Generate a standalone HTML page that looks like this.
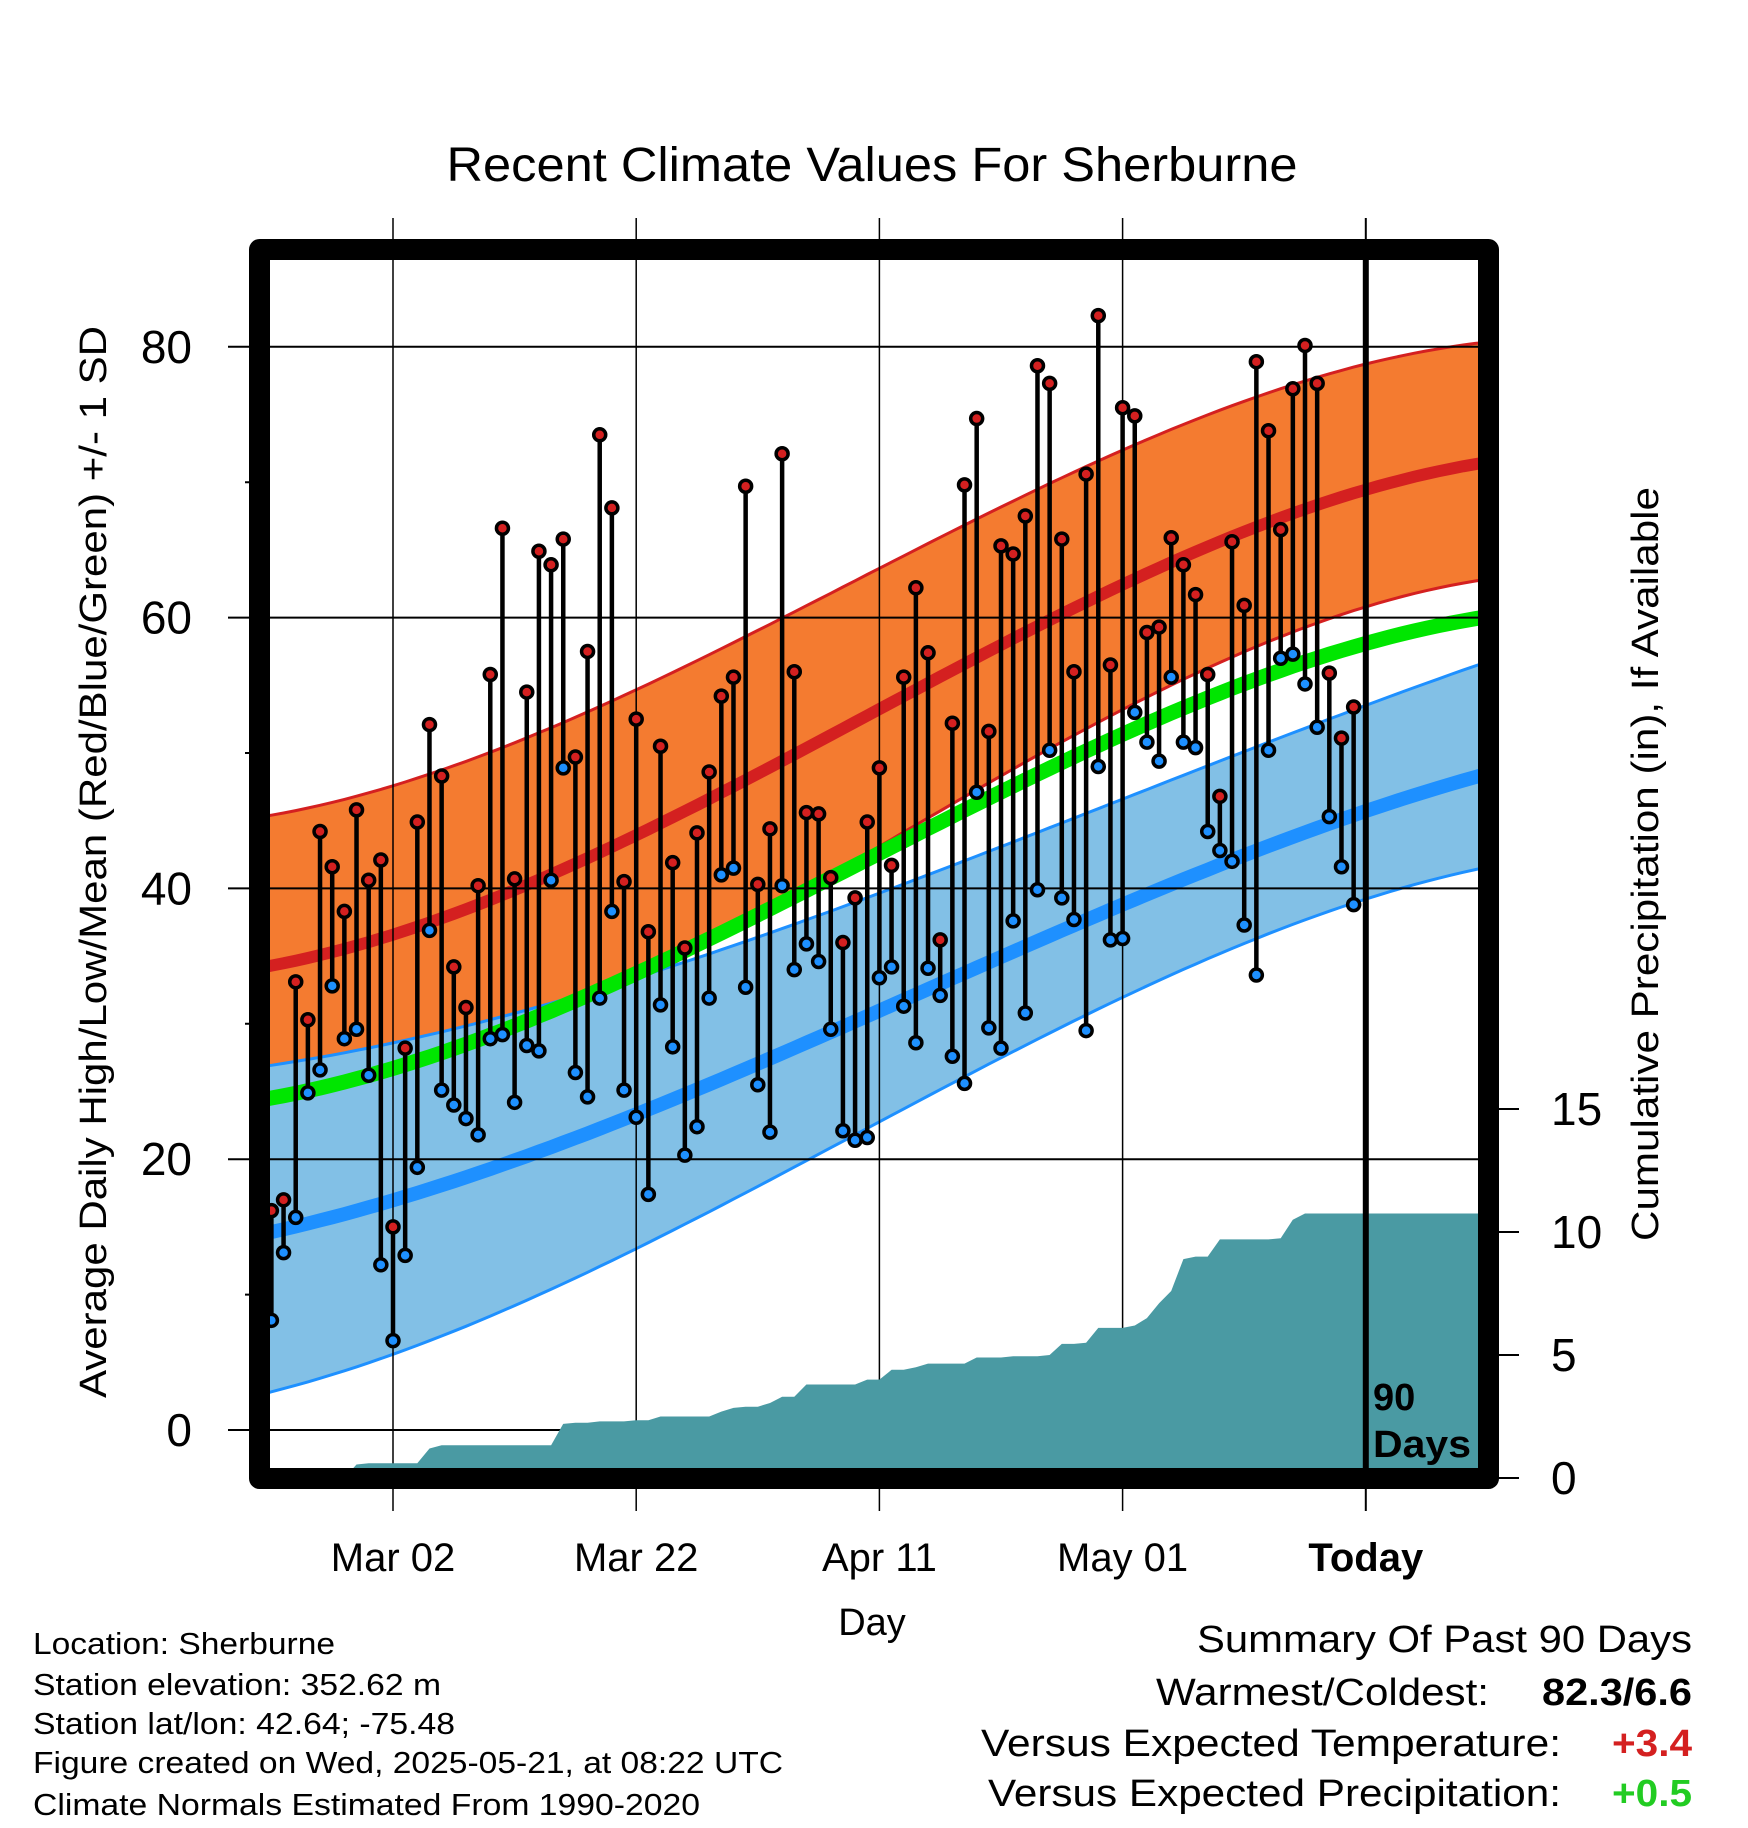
<!DOCTYPE html>
<html><head><meta charset="utf-8"><style>
html,body{margin:0;padding:0;background:#fff}
svg{display:block}
text{font-family:"Liberation Sans",sans-serif;fill:#000}
</style></head><body>
<svg id="chart" xmlns="http://www.w3.org/2000/svg" width="1748" height="1828" viewBox="0 0 1748 1828">
<defs><clipPath id="plotclip"><rect x="270" y="260" width="1208" height="1208"/></clipPath></defs>
<text x="872" y="181" font-size="48" text-anchor="middle" textLength="851" lengthAdjust="spacingAndGlyphs">Recent Climate Values For Sherburne</text>
<g id="bands" clip-path="url(#plotclip)"></g>
<g id="axes"></g>
<g id="marks" clip-path="url(#plotclip)"></g>
<rect x="259.5" y="249.5" width="1229" height="1229" fill="none" stroke="#000" stroke-width="21" stroke-linejoin="round"/>
<text x="1373" y="1410" font-size="38" font-weight="bold">90</text>
<text x="1373" y="1457" font-size="38" font-weight="bold" textLength="98" lengthAdjust="spacingAndGlyphs">Days</text>
<text transform="translate(106,862) rotate(-90)" font-size="38" text-anchor="middle" textLength="1072" lengthAdjust="spacingAndGlyphs">Average Daily High/Low/Mean (Red/Blue/Green) +/- 1 SD</text>
<text transform="translate(1658,864) rotate(-90)" font-size="38" text-anchor="middle" textLength="754" lengthAdjust="spacingAndGlyphs">Cumulative Precipitation (in), If Available</text>
<text x="872" y="1635" font-size="38" text-anchor="middle">Day</text>
<g font-size="31">
<text x="33" y="1654" textLength="302" lengthAdjust="spacingAndGlyphs">Location: Sherburne</text>
<text x="33" y="1695" textLength="408" lengthAdjust="spacingAndGlyphs">Station elevation: 352.62 m</text>
<text x="33" y="1734" textLength="422" lengthAdjust="spacingAndGlyphs">Station lat/lon: 42.64; -75.48</text>
<text x="33" y="1773" textLength="750" lengthAdjust="spacingAndGlyphs">Figure created on Wed, 2025-05-21, at 08:22 UTC</text>
<text x="33" y="1815" textLength="667" lengthAdjust="spacingAndGlyphs">Climate Normals Estimated From 1990-2020</text>
</g>
<g font-size="38">
<text x="1692" y="1652" text-anchor="end" textLength="495" lengthAdjust="spacingAndGlyphs">Summary Of Past 90 Days</text>
<text x="1489" y="1705" text-anchor="end" textLength="333" lengthAdjust="spacingAndGlyphs">Warmest/Coldest:</text>
<text x="1692" y="1705" text-anchor="end" font-weight="bold" textLength="150" lengthAdjust="spacingAndGlyphs">82.3/6.6</text>
<text x="1561" y="1756" text-anchor="end" textLength="580" lengthAdjust="spacingAndGlyphs">Versus Expected Temperature:</text>
<text x="1692" y="1756" text-anchor="end" font-weight="bold" style="fill:#d42020" textLength="80" lengthAdjust="spacingAndGlyphs">+3.4</text>
<text x="1561" y="1806" text-anchor="end" textLength="573" lengthAdjust="spacingAndGlyphs">Versus Expected Precipitation:</text>
<text x="1692" y="1806" text-anchor="end" font-weight="bold" style="fill:#22cc22" textLength="80" lengthAdjust="spacingAndGlyphs">+0.5</text>
</g>
</svg>
<script>
const highs=[16.2,17.0,33.1,30.3,44.2,41.6,38.3,45.8,40.6,42.1,15.0,28.2,44.9,52.1,48.3,34.2,31.2,40.2,55.8,66.6,40.7,54.5,64.9,63.9,65.8,49.7,57.5,73.5,68.1,40.5,52.5,36.8,50.5,41.9,35.6,44.1,48.6,54.2,55.6,69.7,40.3,44.4,72.1,56.0,45.6,45.5,40.8,36.0,39.3,44.9,48.9,41.7,55.6,62.2,57.4,36.2,52.2,69.8,74.7,51.6,65.3,64.7,67.5,78.6,77.3,65.8,56.0,70.6,82.3,56.5,75.5,74.9,58.9,59.3,65.9,63.9,61.7,55.8,46.8,65.6,60.9,78.9,73.8,66.5,76.9,80.1,77.3,55.9,51.1,53.4];
const lows=[8.1,13.1,15.7,24.9,26.6,32.8,28.9,29.6,26.2,12.2,6.6,12.9,19.4,36.9,25.1,24.0,23.0,21.8,28.9,29.2,24.2,28.4,28.0,40.6,48.9,26.4,24.6,31.9,38.3,25.1,23.1,17.4,31.4,28.3,20.3,22.4,31.9,41.0,41.5,32.7,25.5,22.0,40.2,34.0,35.9,34.6,29.6,22.1,21.4,21.6,33.4,34.2,31.3,28.6,34.1,32.1,27.6,25.6,47.1,29.7,28.2,37.6,30.8,39.9,50.2,39.3,37.7,29.5,49.0,36.2,36.3,53.0,50.8,49.4,55.6,50.8,50.4,44.2,42.8,42.0,37.3,33.6,50.2,57.0,57.3,55.1,51.9,45.3,41.6,38.8];
const precip=[0,0,0,0,0,0,0,0.55,0.6,0.6,0.6,0.6,0.6,1.2,1.33,1.33,1.33,1.33,1.33,1.33,1.33,1.33,1.33,1.33,2.2,2.25,2.25,2.3,2.3,2.3,2.35,2.35,2.5,2.5,2.5,2.5,2.5,2.7,2.85,2.9,2.9,3.05,3.3,3.3,3.8,3.8,3.8,3.8,3.8,4.0,4.0,4.4,4.4,4.5,4.65,4.65,4.65,4.65,4.9,4.9,4.9,4.95,4.95,4.95,5.0,5.45,5.45,5.5,6.1,6.1,6.1,6.2,6.5,7.1,7.6,8.9,9.0,9.0,9.7,9.7,9.7,9.7,9.7,9.75,10.5,10.75,10.75,10.75,10.75,10.75];
const normDays=[-10,0,10,20,30,40,50,60,70,80,90];
const highMean=[34.2,36.8,40.0,43.5,48.2,54.0,58.0,62.0,66.3,69.7,71.4];
const highUpper=[45.0,48.2,51.0,54.5,58.5,63.5,68.5,72.5,76.0,78.7,80.3];
const highLower=[23.6,26.0,28.5,32.5,37.5,44.0,49.0,53.0,57.0,60.3,63.3];
const lowMean=[14.7,17.0,19.8,23.0,27.0,31.5,35.2,38.5,42.2,45.7,48.6];
const lowUpper=[26.6,29.0,31.0,33.5,36.0,39.5,43.0,46.5,50.5,53.7,56.5];
const lowLower=[3.1,5.5,8.8,13.0,18.0,23.5,28.0,32.0,35.0,39.0,42.0];
const meanTemp=[24.5,27.0,29.5,33.5,38.0,43.0,47.5,51.0,55.0,58.0,60.2];
const tempTicks=[0,20,40,60,80];
const tempMinor=[10,30,50,70];
const precipTicks=[0,5,10,15];
const dateLabels=["Mar 02","Mar 22","Apr 11","May 01","Today"];
const dateDays=[0,20,40,60,80];

const NS="http://www.w3.org/2000/svg";
const xDay=d=>393+d*12.16;
const yT=t=>1430-t*13.54;
const yP=p=>1478-p*24.6;
function mk(tag,attrs,parent){const e=document.createElementNS(NS,tag);for(const k in attrs)e.setAttribute(k,attrs[k]);parent.appendChild(e);return e;}
// least-squares cubic fit for smooth normals
function fitCubic(arr){
  const n=4,A=[],b=[];
  for(let r=0;r<n;r++){A.push(new Array(n).fill(0));b.push(0);}
  normDays.forEach((d,k)=>{const u=d/50;const v=[1,u,u*u,u*u*u];
    for(let r=0;r<n;r++){b[r]+=v[r]*arr[k];for(let c=0;c<n;c++)A[r][c]+=v[r]*v[c];}});
  for(let i=0;i<n;i++){let p=i;for(let r=i+1;r<n;r++)if(Math.abs(A[r][i])>Math.abs(A[p][i]))p=r;
    [A[i],A[p]]=[A[p],A[i]];[b[i],b[p]]=[b[p],b[i]];
    for(let r=0;r<n;r++){if(r===i)continue;const f=A[r][i]/A[i][i];for(let c=i;c<n;c++)A[r][c]-=f*A[i][c];b[r]-=f*b[i];}}
  const co=b.map((v,i)=>v/A[i][i]);
  return d=>{const u=d/50;return co[0]+co[1]*u+co[2]*u*u+co[3]*u*u*u;};
}
function curve(arr){const f=fitCubic(arr);const pts=[];for(let d=-11;d<=91;d+=1)pts.push([xDay(d),yT(f(d))]);return pts;}
const P=pts=>pts.map(p=>p[0].toFixed(1)+","+p[1].toFixed(1)).join(" ");
const bands=document.getElementById("bands");
const axes=document.getElementById("axes");
const marks=document.getElementById("marks");

let hu=curve(highUpper),hl=curve(highLower);
let e=mk("polygon",{points:P(hu.concat(hl.slice().reverse())),fill:"#f47b30"},bands);


e=mk("polyline",{points:P(hu),fill:"none",stroke:"#d42020","stroke-width":3},bands);


e=mk("polyline",{points:P(hl),fill:"none",stroke:"#d42020","stroke-width":3},bands);


let lu=curve(lowUpper),ll=curve(lowLower);
e=mk("polygon",{points:P(lu.concat(ll.slice().reverse())),fill:"#82c0e6"},bands);


e=mk("polyline",{points:P(lu),fill:"none",stroke:"#1e90ff","stroke-width":3},bands);


e=mk("polyline",{points:P(ll),fill:"none",stroke:"#1e90ff","stroke-width":3},bands);


e=mk("polyline",{points:P(curve(meanTemp)),fill:"none",stroke:"#00e600","stroke-width":15},bands);


e=mk("polyline",{points:P(curve(highMean)),fill:"none",stroke:"#d42020","stroke-width":12},bands);


e=mk("polyline",{points:P(curve(lowMean)),fill:"none",stroke:"#1e90ff","stroke-width":14},bands);



tempTicks.forEach(t=>{
  const g=mk("line",{x1:228,x2:1478,y1:yT(t),y2:yT(t),stroke:"#000","stroke-width":2},axes);
  
  
  const l=mk("text",{x:192,y:yT(t)+16,"font-size":46,"text-anchor":"end"},axes);
  l.textContent=String(t);
  
  
});
tempMinor.forEach(t=>{
  const g=mk("line",{x1:245,x2:262,y1:yT(t),y2:yT(t),stroke:"#000","stroke-width":2},axes);
  
  
});
dateDays.forEach((d,i)=>{
  const g=mk("line",{x1:xDay(d),x2:xDay(d),y1:218,y2:1511,stroke:"#000","stroke-width":d===80?2:1.5},axes);
  
  
  const l=mk("text",{x:xDay(d),y:1571,"font-size":40,"text-anchor":"middle"},axes);
  if(d===80)l.setAttribute("font-weight","bold");
  l.textContent=dateLabels[i];
  
  
});
precipTicks.forEach(p=>{
  const g=mk("line",{x1:1495,x2:1519,y1:yP(p),y2:yP(p),stroke:"#000","stroke-width":2},axes);
  
  
  const l=mk("text",{x:1551,y:yP(p)+16,"font-size":46},axes);
  l.textContent=String(p);
  
  
});

const pp=precip.map((v,i)=>[xDay(i-10),yP(v)]);
pp.push([1480,yP(precip[precip.length-1])]);
const area=[[xDay(-10),1480]].concat(pp).concat([[1480,1480]]);
e=mk("polygon",{points:P(area),fill:"#4a9aa3"},marks);


e=mk("line",{x1:xDay(80),x2:xDay(80),y1:255,y2:1470,stroke:"#000","stroke-width":6},marks);


highs.forEach((h,i)=>{
  const x=xDay(i-10);
  const s=mk("line",{x1:x,x2:x,y1:yT(h),y2:yT(lows[i]),stroke:"#000","stroke-width":4.5},marks);
  
  
});
highs.forEach((h,i)=>{
  const x=xDay(i-10);
  const a=mk("circle",{cx:x,cy:yT(h),r:6,fill:"#d42020",stroke:"#000","stroke-width":3.5},marks);
  
  
  const b=mk("circle",{cx:x,cy:yT(lows[i]),r:6,fill:"#1e90ff",stroke:"#000","stroke-width":3.5},marks);
  
  
});
</script>
</body></html>
